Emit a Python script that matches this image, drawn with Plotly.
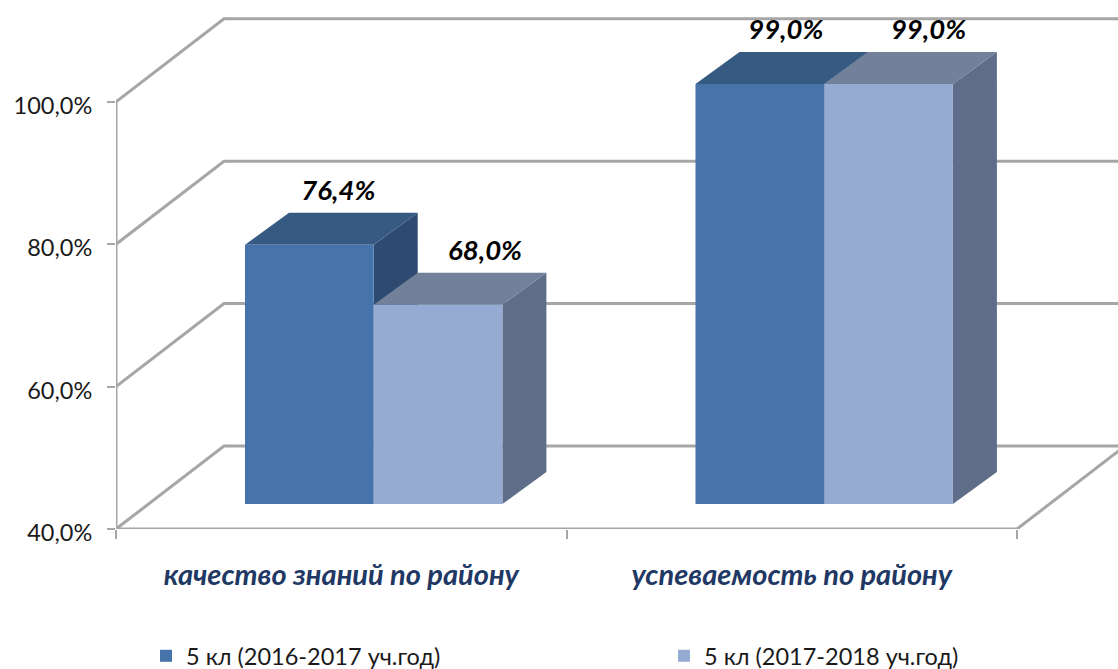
import plotly.graph_objects as go

categories = ["качество знаний по району", "успеваемость по району"]
series_names = ["5 кл (2016-2017 уч.год)", "5 кл (2017-2018 уч.год)"]
series_2016 = [76.4, 99.0]
series_2017 = [68.0, 99.0]
y_ticks = [40, 60, 80, 100]
y_tick_labels = ["40,0%", "60,0%", "80,0%", "100,0%"]

W, H = 1118, 669
X0_PX, Y0_PX = 116, 529
PX_PER_CAT, PX_PER_PCT = 450.5, 7.12
BAR_W = 128.7 / PX_PER_CAT
GROUP_LEFT = 129 / PX_PER_CAT
BACK_X, BACK_Y = 108 / PX_PER_CAT, 83 / PX_PER_PCT
DEPTH_X, DEPTH_Y = 44 / PX_PER_CAT, 32 / PX_PER_PCT
FRONT_SHIFT = 25 / PX_PER_PCT
XMAX = (W - X0_PX) / PX_PER_CAT
YMAX = 40 + Y0_PX / PX_PER_PCT
GREY = "#A6A6A6"
FONT = "Lato"

COLORS = [
    dict(front="#4573AA", top="#375A83", side="#2E4A70"),
    dict(front="#95ABD2", top="#728199", side="#5F6D89"),
]
LABEL_DX = [[7 / PX_PER_CAT, 25 / PX_PER_CAT], [4 / PX_PER_CAT, 18 / PX_PER_CAT]]
LABEL_DY = 20 / PX_PER_PCT


def path(points):
    return "M" + " L".join(f"{x},{y}" for x, y in points) + " Z"


shapes = []
line = dict(color=GREY, width=3)
for g in y_ticks:
    shapes.append(dict(type="path", layer="below", xref="x", yref="y", line=line,
                       path=f"M0,{g} L{BACK_X},{g + BACK_Y} L{XMAX},{g + BACK_Y}"))
shapes.append(dict(type="line", layer="below", xref="x", yref="y", line=line, x0=0, x1=0, y0=40, y1=100))
shapes.append(dict(type="line", layer="below", xref="x", yref="y", line=line, x0=0, x1=2, y0=40, y1=40))
shapes.append(dict(type="line", layer="below", xref="x", yref="y", line=line,
                   x0=2, x1=2 + BACK_X, y0=40, y1=40 + BACK_Y))

all_series = [series_2016, series_2017]
fig = go.Figure()
base = 40 + FRONT_SHIFT
label_x, label_y, label_t = [], [], []
for c in range(len(categories)):
    for s, vals in enumerate(all_series):
        v = vals[c]
        x1 = c + GROUP_LEFT + s * BAR_W
        x2 = x1 + BAR_W
        top = v + FRONT_SHIFT
        col = COLORS[s]
        shapes.append(dict(type="path", layer="below", xref="x", yref="y", fillcolor=col["side"],
                           line=dict(width=0),
                           path=path([(x2, top), (x2 + DEPTH_X, top + DEPTH_Y),
                                      (x2 + DEPTH_X, base + DEPTH_Y), (x2, base)])))
        shapes.append(dict(type="path", layer="below", xref="x", yref="y", fillcolor=col["top"],
                           line=dict(width=0),
                           path=path([(x1, top), (x2, top), (x2 + DEPTH_X, top + DEPTH_Y),
                                      (x1 + DEPTH_X, top + DEPTH_Y)])))
        label_x.append((x1 + x2) / 2 + DEPTH_X / 2 + LABEL_DX[c][s])
        label_y.append(top + DEPTH_Y + LABEL_DY)
        label_t.append(f"{v:.1f}%".replace(".", ","))

for s, vals in enumerate(all_series):
    fig.add_trace(go.Bar(
        name=series_names[s],
        x=[c + GROUP_LEFT + (s + 0.5) * BAR_W for c in range(len(categories))],
        y=[v - 40 for v in vals],
        base=base,
        width=BAR_W,
        legend="legend" if s == 0 else "legend2",
        marker=dict(color=COLORS[s]["front"], line=dict(width=0)),
    ))

fig.add_trace(go.Scatter(
    x=label_x, y=label_y, text=label_t, mode="text", textposition="middle center",
    textfont=dict(family=FONT, size=27.5, color="#000000", weight="bold", style="italic"),
    showlegend=False, cliponaxis=False,
))

legend_font = dict(family=FONT, size=23.5, color="#1A1A1A")
fig.update_layout(
    width=W, height=H, margin=dict(l=0, r=0, t=0, b=0, autoexpand=False),
    paper_bgcolor="white", plot_bgcolor="white",
    barmode="overlay", shapes=shapes,
    font=dict(family=FONT, color="#1A1A1A", size=23),
    legend=dict(x=146 / W, y=13 / H, xanchor="left", yanchor="middle",
                font=legend_font, bgcolor="rgba(0,0,0,0)"),
    legend2=dict(x=664 / W, y=13 / H, xanchor="left", yanchor="middle",
                 font=legend_font, bgcolor="rgba(0,0,0,0)"),
    xaxis=dict(
        domain=[X0_PX / W, 1], range=[0, XMAX], showgrid=False, zeroline=False, showline=False,
        tickmode="array", tickvals=[c + 0.5 for c in range(len(categories))], ticktext=categories,
        ticks="", ticklabelstandoff=26,
        tickfont=dict(family=FONT, size=29, color="#1F3864", weight="bold", style="italic"),
        minor=dict(ticks="outside", tickmode="array", tickvals=[0, 1, 2], ticklen=9,
                   tickcolor=GREY, tickwidth=2),
    ),
    yaxis=dict(
        domain=[(H - Y0_PX) / H, 1], range=[40, YMAX], showgrid=False, zeroline=False, showline=False,
        tickmode="array", tickvals=y_ticks, ticktext=y_tick_labels,
        ticks="outside", ticklen=8, tickcolor=GREY, tickwidth=2, ticklabelstandoff=10,
        ticklabelshift=4,
        tickfont=dict(family=FONT, size=23.5, color="#1A1A1A"),
    ),
)

fig.write_html("out.html", config=dict(displayModeBar=False),
               post_script="document.body.style.margin='0';document.body.style.overflow='hidden';")
